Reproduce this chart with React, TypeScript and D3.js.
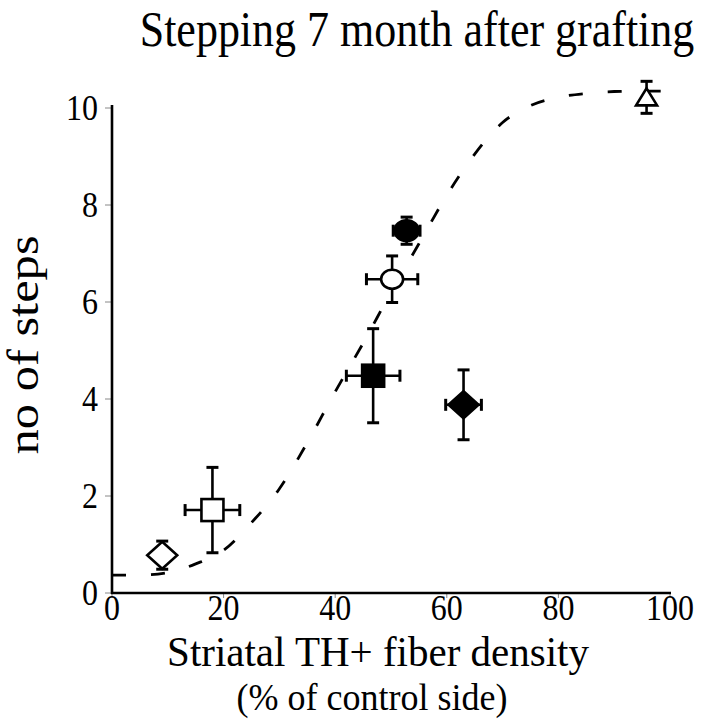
import React from "react";
import * as d3 from "d3";

const title = "Stepping 7 month after grafting";
const xLabel = "Striatal TH+ fiber density";
const xSubLabel = "(% of control side)";
const yLabel = "no of steps";

const xTicks = [0, 20, 40, 60, 80, 100];
const yTicks = [0, 2, 4, 6, 8, 10];

// groups
const groupShapes = ["diamond", "square", "square", "circle", "circle", "diamond", "triangle"];
const groupFilled = [false, false, true, false, true, true, false];
const groupX = [9.0, 18.0, 46.8, 50.2, 52.8, 63.0, 95.8];
const groupY = [0.78, 1.71, 4.48, 6.47, 7.47, 3.88, 10.22];
const groupXErr = [0, 4.9, 4.8, 4.6, 2.4, 3.2, 0];
const groupYErr = [0.29, 0.88, 0.97, 0.48, 0.28, 0.72, 0.33];

// fitted curve
const curveX = [0, 5, 10, 15, 20, 25, 30, 35, 40, 45, 50, 55, 60, 65, 70, 75, 80, 85, 90, 95, 100];
const curveY = [0.37, 0.37, 0.42, 0.6, 0.88, 1.45, 2.15, 3.1, 4.15, 5.15, 6.2, 7.2, 8.2, 9.05, 9.7, 10.05, 10.22, 10.3, 10.34, 10.35, 10.35];

const W = 702;
const H = 720;
const left = 112;
const right = 670;
const bottom = 593;
const top = 108;

export default function App() {
  const x = d3.scaleLinear().domain([0, 100]).range([left, right]);
  const y = d3.scaleLinear().domain([0, 10]).range([bottom, top]);
  const line = d3
    .line<number>()
    .x((_, i) => x(curveX[i]))
    .y((d) => y(d))
    .curve(d3.curveMonotoneX);

  const font = "'Liberation Serif', 'Times New Roman', serif";
  const sw = 2.6;
  const cap = 6;

  const T = (key: string, tx: number, ty: number, size: number, anchor: string, content: string, st = 1.15, rot = 0) => (
    <g key={key} transform={`translate(${tx},${ty}) rotate(${rot}) scale(${rot ? st : 1},${rot ? 1 : st})`}>
      <text x={0} y={0} fontSize={size} textAnchor={anchor as any} fill="#000">{content}</text>
    </g>
  );

  const marker = (i: number) => {
    const cx = x(groupX[i]);
    const cy = y(groupY[i]);
    const fill = groupFilled[i] ? "#000" : "#fff";
    const s = groupShapes[i];
    if (s === "square") {
      const h = 11;
      return <rect key={"m" + i} x={cx - h} y={cy - h} width={2 * h} height={2 * h} fill={fill} stroke="#000" strokeWidth={sw} />;
    }
    if (s === "circle") {
      return <ellipse key={"m" + i} cx={cx} cy={cy} rx={groupFilled[i] ? 12 : 11} ry={groupFilled[i] ? 10.5 : 9.5} fill={fill} stroke="#000" strokeWidth={sw} />;
    }
    if (s === "diamond") {
      const hw = 15;
      const hh = 13.5;
      const p = `M${cx},${cy - hh}L${cx + hw},${cy}L${cx},${cy + hh}L${cx - hw},${cy}Z`;
      return <path key={"m" + i} d={p} fill={fill} stroke="#000" strokeWidth={sw} strokeLinejoin="miter" />;
    }
    const hw = 10.5;
    const p = `M${cx},${cy - 9}L${cx + hw},${cy + 8}L${cx - hw},${cy + 8}Z`;
    return <path key={"m" + i} d={p} fill={fill} stroke="#000" strokeWidth={sw} />;
  };

  const errBars = (i: number) => {
    const cx = x(groupX[i]);
    const cy = y(groupY[i]);
    const els: React.ReactNode[] = [];
    if (groupYErr[i] > 0) {
      const y1 = y(groupY[i] + groupYErr[i]);
      const y2 = y(groupY[i] - groupYErr[i]);
      els.push(<line key="v" x1={cx} x2={cx} y1={y1} y2={y2} stroke="#000" strokeWidth={sw} />);
      els.push(<line key="vt" x1={cx - cap} x2={cx + cap} y1={y1} y2={y1} stroke="#000" strokeWidth={3} />);
      els.push(<line key="vb" x1={cx - cap} x2={cx + cap} y1={y2} y2={y2} stroke="#000" strokeWidth={3} />);
    }
    if (groupXErr[i] > 0) {
      const x1 = x(groupX[i] - groupXErr[i]);
      const x2 = x(groupX[i] + groupXErr[i]);
      els.push(<line key="h" x1={x1} x2={x2} y1={cy} y2={cy} stroke="#000" strokeWidth={sw} />);
      els.push(<line key="hl" x1={x1} x2={x1} y1={cy - cap} y2={cy + cap} stroke="#000" strokeWidth={3} />);
      els.push(<line key="hr" x1={x2} x2={x2} y1={cy - cap} y2={cy + cap} stroke="#000" strokeWidth={3} />);
    }
    return <g key={"e" + i}>{els}</g>;
  };

  return (
    <svg width={W} height={H} style={{ position: "absolute", left: 0, top: 0, background: "#fff" }} fontFamily={font}>
      <rect x={0} y={0} width={W} height={H} fill="#fff" />
      {T("title", 417, 46, 44, "middle", title)}

      {yTicks.map((t) => (
        <g key={"yt" + t}>
          <line x1={left - 7} x2={left} y1={y(t)} y2={y(t)} stroke="#888" strokeWidth={1} />
          {T("ytl" + t, 98, y(t) + 12, 32, "end", String(t))}
        </g>
      ))}
      {xTicks.map((t) => (
        <g key={"xt" + t}>
          <line x1={x(t)} x2={x(t)} y1={bottom} y2={bottom + 5} stroke="#888" strokeWidth={1} />
          {T("xtl" + t, x(t), 620, 32, "middle", String(t), 1.12)}
        </g>
      ))}

      <path d={line(curveY) || ""} fill="none" stroke="#000" strokeWidth={2.8} strokeDasharray="14 25" />

      <line x1={left} x2={left} y1={bottom + 1} y2={top - 3} stroke="#000" strokeWidth={2.6} />
      <line x1={left - 1} x2={right + 1} y1={bottom} y2={bottom} stroke="#000" strokeWidth={2.6} />

      {groupX.map((_, i) => errBars(i))}
      {groupX.map((_, i) => marker(i))}

      {T("ylab", 38, 345, 44, "middle", yLabel, 1.15, -90)}
      {T("xlab", 378, 666, 41, "middle", xLabel, 1.05)}
      {T("xsub", 372, 710, 36, "middle", xSubLabel, 1.05)}
    </svg>
  );
}
